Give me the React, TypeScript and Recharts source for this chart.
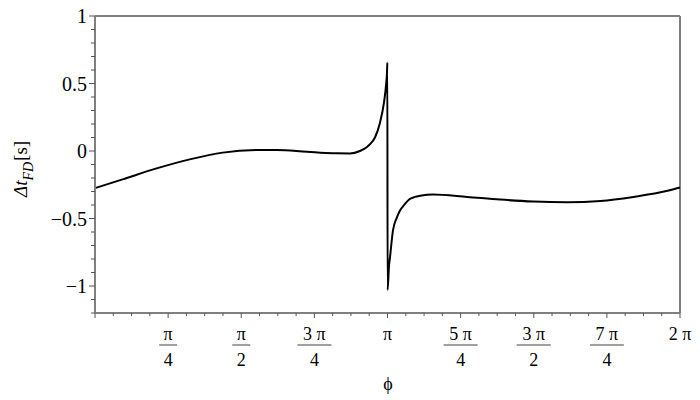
import React from "react";
import { LineChart, Line, XAxis, YAxis, ReferenceLine } from "recharts";

const PI = Math.PI;

// phi (rad) and Delta t_FD (s)
const phiValues = [
  0, 0.296, 0.662, 1.017, 1.372, 1.737, 1.953, 2.276, 2.555, 2.738, 2.846,
  2.921, 2.953, 3.007, 3.061, 3.104, 3.125, 3.136, 3.14, 3.1425, 3.158, 3.168,
  3.2, 3.244, 3.276, 3.308, 3.351, 3.383, 3.437, 3.491, 3.631, 3.997, 4.352,
  4.707, 5.073, 5.428, 5.783, 6.149, 6.283,
];
const dtValues = [
  -0.275, -0.21, -0.129, -0.062, -0.012, 0.007, 0.008, -0.006, -0.017, -0.018,
  0.0, 0.03, 0.05, 0.1, 0.21, 0.36, 0.48, 0.58, 0.655, -1.03, -0.85, -0.79,
  -0.59, -0.49, -0.44, -0.41, -0.375, -0.355, -0.34, -0.332, -0.322, -0.34,
  -0.36, -0.374, -0.379, -0.37, -0.34, -0.295, -0.27,
];

// x ticks every pi/16, labels on the pi/4 ones
const xTickSixteenths = Array.from({ length: 33 }, (_, i) => i);
const xTickLabels: Record<number, [string, string?]> = {
  4: ["π", "4"],
  8: ["π", "2"],
  12: ["3 π", "4"],
  16: ["π"],
  20: ["5 π", "4"],
  24: ["3 π", "2"],
  28: ["7 π", "4"],
  32: ["2 π"],
};

const yTicks = [
  -1.2, -1.1, -1, -0.9, -0.8, -0.7, -0.6, -0.5, -0.4, -0.3, -0.2, -0.1, 0, 0.1,
  0.2, 0.3, 0.4, 0.5, 0.6, 0.7, 0.8, 0.9, 1,
];
const yTickLabels: Record<string, string> = {
  "-1": "−1",
  "-0.5": "−0.5",
  "0": "0",
  "0.5": "0.5",
  "1": "1",
};

const data = phiValues.map((p, i) => ({ phi: p, dt: dtValues[i] }));
const xTicks = xTickSixteenths.map((k) => (k * PI) / 16);

const FONT = '"Times New Roman", "Liberation Serif", "DejaVu Serif", serif';
const GRAY = "#808080";
const txt = (size: number, extra: any = {}) => ({
  fontFamily: FONT,
  fontSize: size,
  fill: "#000",
  ...extra,
});

const XTick = (props: any) => {
  const { x, y, payload } = props;
  const k = Math.round(payload.value / (PI / 16));
  const major = k % 4 === 0;
  const lab = xTickLabels[k];
  return (
    <g>
      <line x1={x} y1={y} x2={x} y2={y + (major ? 5 : 3)} stroke="#555" strokeWidth={1} />
      {lab && (
        <text x={x} y={y + 27} textAnchor="middle" style={txt(18)}>
          {lab[0]}
        </text>
      )}
      {lab && lab[1] && (
        <>
          <line
            x1={x - (lab[0].length > 1 ? 17 : 9)}
            x2={x + (lab[0].length > 1 ? 17 : 9)}
            y1={y + 32}
            y2={y + 32}
            stroke={GRAY}
            strokeWidth={1.5}
          />
          <text x={x} y={y + 53} textAnchor="middle" style={txt(18)}>
            {lab[1]}
          </text>
        </>
      )}
    </g>
  );
};

const YTick = (props: any) => {
  const { x, y, payload } = props;
  const key = String(Math.round(payload.value * 10) / 10);
  const lab = yTickLabels[key];
  return (
    <g>
      <line x1={x} y1={y} x2={x - (lab ? 6 : 4)} y2={y} stroke="#555" strokeWidth={1} />
      {lab && (
        <text x={x - 8} y={y} dy="0.35em" textAnchor="end" style={txt(20)}>
          {lab}
        </text>
      )}
    </g>
  );
};

export default function App() {
  return (
    <div style={{ position: "absolute", left: 0, top: 0, width: 700, height: 400, background: "#fff" }}>
      <LineChart width={700} height={400} data={data} margin={{ top: 16, right: 20, bottom: 0, left: 0 }}>
        <XAxis
          type="number"
          dataKey="phi"
          domain={[0, 2 * PI]}
          ticks={xTicks}
          interval={0}
          tick={<XTick />}
          tickLine={false}
          tickSize={0}
          tickMargin={0}
          height={87}
          axisLine={{ stroke: GRAY, strokeWidth: 2 }}
        />
        <YAxis
          type="number"
          domain={[-1.2, 1]}
          ticks={yTicks}
          interval={0}
          tick={<YTick />}
          tickLine={false}
          tickSize={0}
          tickMargin={0}
          width={95}
          allowDataOverflow
          axisLine={{ stroke: GRAY, strokeWidth: 2 }}
        />
        <ReferenceLine y={1} stroke={GRAY} strokeWidth={2} />
        <ReferenceLine x={2 * PI} stroke={GRAY} strokeWidth={2} />
        <Line
          type="monotone"
          dataKey="dt"
          stroke="#000"
          strokeWidth={2}
          dot={false}
          isAnimationActive={false}
        />
      </LineChart>
      <svg
        width={700}
        height={400}
        style={{ position: "absolute", left: 0, top: 0, pointerEvents: "none" }}
      >
        <text transform="rotate(-90)" x={-197} y={27} style={txt(19)}>
          <tspan style={{ fontStyle: "italic" }}>Δt</tspan>
          <tspan style={{ fontStyle: "italic", fontSize: 14 }} dy={6}>FD</tspan>
          <tspan dy={-6} dx={1}>[s]</tspan>
        </text>
        <text x={388} y={390} textAnchor="middle" style={txt(18)}>
          ϕ
        </text>
      </svg>
    </div>
  );
}
